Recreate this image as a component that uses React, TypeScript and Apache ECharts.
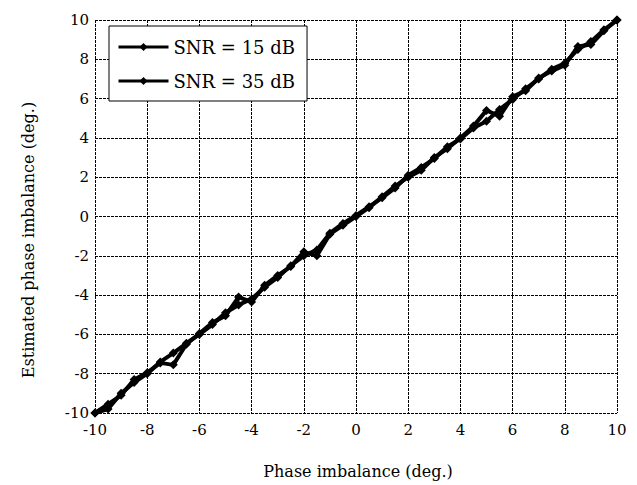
import React, { useEffect, useRef } from "react";
import * as echarts from "echarts";

const xValues = [-10, -9.5, -9, -8.5, -8, -7.5, -7, -6.5, -6, -5.5, -5, -4.5, -4, -3.5, -3, -2.5, -2, -1.5, -1, -0.5, 0, 0.5, 1, 1.5, 2, 2.5, 3, 3.5, 4, 4.5, 5, 5.5, 6, 6.5, 7, 7.5, 8, 8.5, 9, 9.5, 10];
const snr15 = [-10, -9.55, -9.1, -8.3, -7.95, -7.45, -7.55, -6.5, -5.95, -5.4, -5.05, -4.1, -4.35, -3.5, -3.0, -2.55, -1.8, -2.0, -0.9, -0.45, 0.0, 0.45, 1.0, 1.55, 2.0, 2.35, 3.0, 3.45, 4.0, 4.6, 5.4, 5.1, 6.1, 6.4, 7.05, 7.4, 7.7, 8.65, 8.75, 9.45, 10];
const snr35 = [-10, -9.8, -9.0, -8.45, -8.0, -7.4, -6.95, -6.45, -6.0, -5.5, -4.9, -4.5, -4.2, -3.6, -3.1, -2.5, -2.0, -1.7, -0.85, -0.35, 0.05, 0.5, 0.95, 1.45, 2.1, 2.5, 2.95, 3.55, 3.95, 4.5, 4.85, 5.45, 5.95, 6.5, 7.0, 7.5, 7.8, 8.5, 8.9, 9.5, 10];
const seriesNames = ["SNR = 15 dB", "SNR = 35 dB"];
const xTitle = "Phase imbalance (deg.)";
const yTitle = "Estimated phase imbalance (deg.)";

const FONT = "'DejaVu Serif', serif";

export default function App() {
  const ref = useRef<HTMLDivElement>(null);
  useEffect(() => {
    if (!ref.current) return;
    const chart = echarts.init(ref.current, null, { renderer: "svg" });
    const pairs = (ys: number[]) => xValues.map((x, i) => [x, ys[i]]);
    const gridLine = { show: true, lineStyle: { color: "#000", width: 1, type: [3, 1] as any } };
    const mkSeries = (name: string, ys: number[]) => ({
      name,
      type: "line",
      data: pairs(ys),
      symbol: "diamond",
      symbolSize: 9,
      showSymbol: true,
      lineStyle: { color: "#000", width: 4 },
      itemStyle: { color: "#000" },
      clip: false,
    });
    chart.setOption({
      animation: false,
      backgroundColor: "#fff",
      grid: { left: 95, right: 20, top: 20, bottom: 72 },
      xAxis: {
        type: "value",
        min: -10,
        max: 10,
        interval: 2,
        axisLine: { show: false },
        axisTick: { show: false },
        splitLine: gridLine,
        axisLabel: { color: "#000", fontFamily: FONT, fontSize: 15, margin: 9 },
      },
      yAxis: {
        type: "value",
        min: -10,
        max: 10,
        interval: 2,
        axisLine: { show: false },
        axisTick: { show: false },
        splitLine: gridLine,
        axisLabel: { color: "#000", fontFamily: FONT, fontSize: 15, margin: 6 },
      },
      legend: {
        show: true,
        orient: "vertical",
        left: 109,
        top: 26,
        padding: [12, 12, 11, 8],
        itemGap: 16,
        itemWidth: 50,
        itemHeight: 10,
        borderColor: "#000",
        borderWidth: 1,
        backgroundColor: "#fff",
        lineStyle: { width: 3, color: "#000" },
        textStyle: { color: "#000", fontFamily: FONT, fontSize: 18 },
        data: seriesNames,
      },
      graphic: [
        {
          type: "text",
          x: 358,
          y: 471,
          style: {
            text: xTitle,
            fill: "#000",
            font: `16px ${FONT}`,
            align: "center",
            verticalAlign: "middle",
          },
        },
        {
          type: "text",
          x: 28,
          y: 240,
          rotation: Math.PI / 2,
          style: {
            text: yTitle,
            fill: "#000",
            font: `16px ${FONT}`,
            align: "center",
            verticalAlign: "middle",
          },
        },
      ],
      series: [mkSeries(seriesNames[0], snr15), mkSeries(seriesNames[1], snr35)],
    });
    return () => chart.dispose();
  }, []);
  return <div ref={ref} style={{ width: 637, height: 485, position: "fixed", left: 0, top: 0 }} />;
}
